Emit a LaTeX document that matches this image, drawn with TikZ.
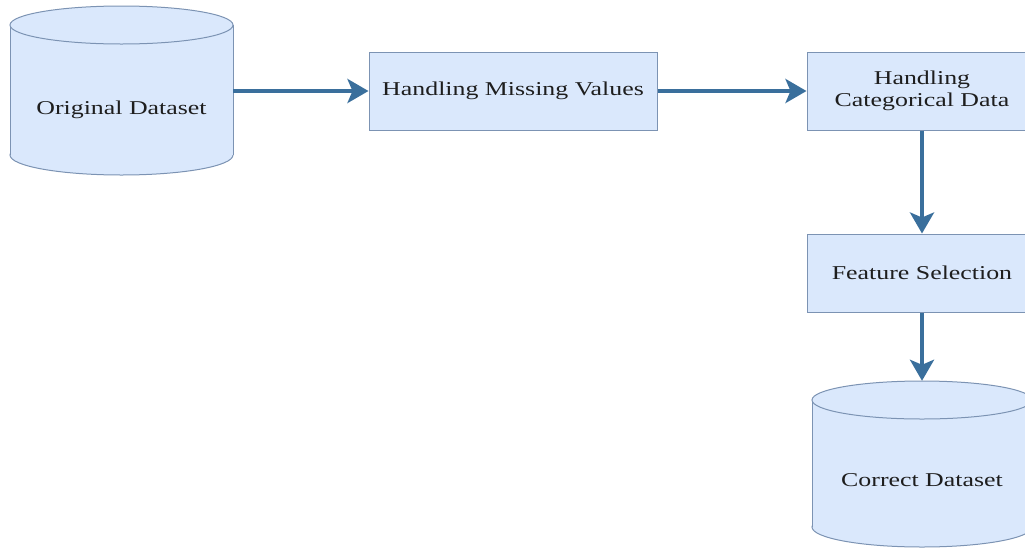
\documentclass[tikz,border=0pt]{standalone}
\usepackage{fontspec}
\setmainfont{Liberation Serif}[FakeStretch=1.32]
\usetikzlibrary{arrows.meta}
\definecolor{boxfill}{HTML}{DAE8FC}
\definecolor{boxline}{HTML}{7C93B3}
\definecolor{arrowc}{HTML}{3A6F9C}
\definecolor{txt}{HTML}{1E1E1E}
\begin{document}
\begin{tikzpicture}[x=1pt,y=-1pt,
  lblfont/.style={font=\fontsize{19.6}{22}\selectfont},
  procbox/.style={draw=boxline, line width=1pt, fill=boxfill, inner sep=0pt, align=center, text=txt, lblfont},
  cylfill/.style={fill=boxfill, draw=boxline, line width=1pt},
  lbl/.style={text=txt, lblfont, inner sep=0pt, align=center},
  hold/.style={draw=none, inner sep=0pt},
  flow/.style={draw=arrowc, line width=4pt, -{Stealth[length=21pt,width=24pt,inset=5pt]}}
]
\useasboundingbox (0,0) rectangle (1025,550);

% ---- Original Dataset cylinder ----
\node[hold, minimum width=223pt, minimum height=169pt] (orig) at (121.5,90.5) {};
\draw[cylfill] (121.5,155) ellipse [x radius=111.5, y radius=20];
\fill[boxfill] (10,25) rectangle (233,155);
\draw[boxline, line width=1pt] (10,25) -- (10,155) (233,25) -- (233,155);
\draw[cylfill] (121.5,25) ellipse [x radius=111.5, y radius=19];
\node[lbl] (origtxt) at (121.5,110) {Original Dataset};

% ---- process boxes ----
\node[procbox, minimum width=288pt, minimum height=78pt] (hmv) at (513,91) {Handling Missing Values};
\node[procbox, minimum width=230pt, minimum height=78pt] (hcd) at (922,91) {Handling\\Categorical Data};
\node[procbox, minimum width=230pt, minimum height=78pt] (fs) at (922,273) {Feature Selection};

% ---- Correct Dataset cylinder ----
\node[hold, minimum width=220pt, minimum height=166pt] (corr) at (922,464) {};
\draw[cylfill] (922,527) ellipse [x radius=110, y radius=20];
\fill[boxfill] (812,400) rectangle (1032,527);
\draw[boxline, line width=1pt] (812,400) -- (812,527) (1032,400) -- (1032,527);
\draw[cylfill] (922,400) ellipse [x radius=110, y radius=19];
\node[lbl] (corrtxt) at (922,480) {Correct Dataset};

% ---- connectors ----
\draw[flow] (orig.east |- hmv.west) -- (hmv.west);
\draw[flow] (hmv.east) -- (hcd.west);
\draw[flow] (hcd.south) -- (fs.north);
\draw[flow] (fs.south) -- (corr.north);
\end{tikzpicture}
\end{document}
